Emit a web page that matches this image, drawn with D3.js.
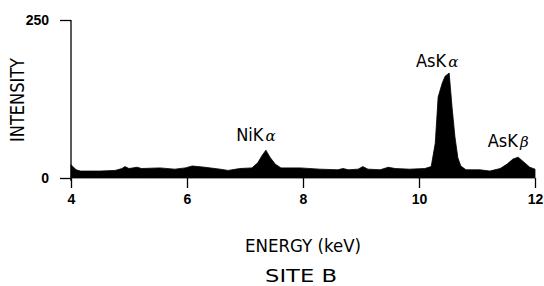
<!DOCTYPE html>
<html>
<head>
<meta charset="utf-8">
<script src="https://cdn.jsdelivr.net/npm/d3@7"></script>
<style>
  body { margin: 0; background: #fff; }
  svg { display: block; }
  text { fill: #000; }
</style>
</head>
<body>
<div id="chart"></div>
<script>
// Spectrum (energy in keV, intensity in counts)
const energy = [4.00, 4.02, 4.09, 4.16, 4.50, 4.76, 4.88, 4.93, 5.00, 5.14, 5.22, 5.53, 5.79, 5.97,
    6.09, 6.31, 6.57, 6.71, 6.91, 7.12, 7.22, 7.29, 7.36, 7.43, 7.52, 7.62, 7.95, 8.29, 8.60,
    8.69, 8.78, 8.95, 9.03, 9.12, 9.33, 9.47, 9.59, 9.84, 10.10, 10.21, 10.28, 10.33, 10.40,
    10.45, 10.52, 10.57, 10.62, 10.67, 10.72, 10.81, 11.05, 11.22, 11.40, 11.52, 11.62, 11.71,
    11.81, 11.91, 12.00];
const intensity = [21, 19, 13, 11, 11, 12, 15, 18, 15, 17, 15, 16, 14, 16,
    19, 17, 14, 12, 15, 16, 24, 35, 44, 33, 22, 16, 16, 14, 13,
    15, 13, 14, 18, 14, 13, 17, 15, 14, 15, 18, 55, 128, 150,
    161, 166, 112, 65, 32, 19, 13, 13, 11, 15, 22, 30, 33,
    25, 17, 14];

const xTicks = [4, 6, 8, 10, 12];
const yTicks = [0, 250];

const peakNames = ["NiK", "AsK", "AsK"];
const peakGreek = ["α", "α", "β"];
const peakEnergy = [7.36, 10.52, 11.71];
const peakIntensity = [44, 166, 33];

const data = energy.map((e, i) => ({e: e, v: intensity[i]}));

const W = 544, H = 286;
const margin = {top: 20, right: 9, bottom: 108, left: 71};
const width = W - margin.left - margin.right;
const height = H - margin.top - margin.bottom;

const svg = d3.select("#chart").append("svg")
    .attr("width", W)
    .attr("height", H);

const g = svg.append("g")
    .attr("transform", `translate(${margin.left},${margin.top})`);

const x = d3.scaleLinear().domain([4, 12]).range([0, width]);
const y = d3.scaleLinear().domain([0, 250]).range([height, 0]);

// filled spectrum
const area = d3.area()
    .x(d => x(d.e))
    .y0(y(0))
    .y1(d => y(d.v))
    .curve(d3.curveLinear);

g.append("path")
    .datum(data)
    .attr("d", area)
    .attr("fill", "#000")
    .attr("stroke", "#000")
    .attr("stroke-width", 0.8);

// x axis (ticks only, baseline is the spectrum's edge)
const xAxis = g.append("g")
    .attr("transform", `translate(0,${height})`)
    .call(d3.axisBottom(x).tickValues(xTicks).tickSize(10).tickPadding(6).tickFormat(d3.format("d")));
xAxis.select(".domain").remove();
xAxis.selectAll("line").attr("stroke", "#000").attr("stroke-width", 1.3);
xAxis.selectAll("text")
    .style("font-family", "'Liberation Sans', Arial, sans-serif")
    .style("font-size", "14px")
    .style("font-weight", "bold");

// y axis
const yAxis = g.append("g")
    .call(d3.axisLeft(y).tickValues(yTicks).tickSize(11).tickPadding(11).tickFormat(d3.format("d")));
yAxis.select(".domain")
    .attr("d", `M0,0V${height + 3}`)
    .attr("stroke", "#000")
    .attr("stroke-width", 1.3);
yAxis.selectAll("line").attr("stroke", "#000").attr("stroke-width", 1.3);
yAxis.selectAll("text")
    .style("font-family", "'Liberation Sans', Arial, sans-serif")
    .style("font-size", "14px")
    .style("font-weight", "bold");

const narrow = "'Liberation Sans Narrow', 'DejaVu Sans Condensed', Arial, sans-serif";

// y axis label
svg.append("text")
    .attr("transform", `translate(24,100) rotate(-90)`)
    .attr("text-anchor", "middle")
    .style("font-family", narrow)
    .style("font-size", "19px")
    .attr("textLength", 84)
    .attr("lengthAdjust", "spacingAndGlyphs")
    .text("INTENSITY");

// x axis label
svg.append("text")
    .attr("x", 303)
    .attr("y", 252)
    .attr("text-anchor", "middle")
    .style("font-family", narrow)
    .style("font-size", "18px")
    .attr("textLength", 116)
    .attr("lengthAdjust", "spacingAndGlyphs")
    .text("ENERGY (keV)");

// site caption
svg.append("text")
    .attr("x", 301)
    .attr("y", 282)
    .attr("text-anchor", "middle")
    .style("font-family", narrow)
    .style("font-size", "18px")
    .attr("textLength", 72)
    .attr("lengthAdjust", "spacingAndGlyphs")
    .text("SITE   B");

// peak labels
const labelOffsetX = [0, -2, 0];
const labelOffsetY = [-9, -6, -10];
peakNames.forEach((name, i) => {
    const t = g.append("text")
        .attr("x", x(peakEnergy[i]) + labelOffsetX[i] - 10)
        .attr("y", y(peakIntensity[i]) + labelOffsetY[i])
        .attr("text-anchor", "middle")
        .style("font-family", narrow)
        .style("font-size", "18px");
    t.append("tspan").text(name);
    t.append("tspan")
        .attr("dx", 2)
        .style("font-style", "italic")
        .style("font-family", "'DejaVu Serif', serif")
        .style("font-size", "15px")
        .text(peakGreek[i]);
});
</script>
</body>
</html>
